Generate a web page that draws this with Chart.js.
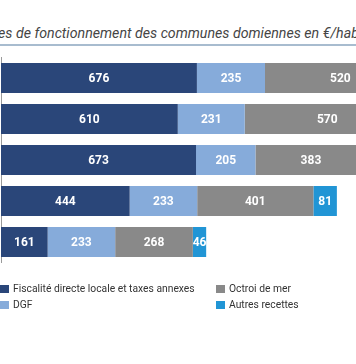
<!DOCTYPE html>
<html><head><meta charset="utf-8">
<script src="https://cdn.jsdelivr.net/npm/chart.js@4/dist/chart.umd.min.js"></script>
<style>
html,body{margin:0;padding:0;background:#fff;overflow:hidden;}
#wrap{position:relative;width:356px;height:364px;overflow:hidden;font-family:Roboto,"Noto Sans",sans-serif;}
#title{position:absolute;left:-2px;top:25px;white-space:nowrap;font-size:14.2px;font-style:italic;color:#454545;}
#rule{position:absolute;left:0;top:44px;width:356px;height:2px;background:#a8bccf;}
#c{position:absolute;left:0;top:0;}
.leg{position:absolute;font-size:10.3px;color:#333;white-space:nowrap;line-height:14px;}
.leg i{position:absolute;left:-13px;top:3px;width:9px;height:8px;}
</style></head>
<body><div id="wrap">
<div id="title">es de fonctionnement des communes domiennes en €/habitant</div>
<div id="rule"></div>
<canvas id="c" width="356" height="364"></canvas>
<div id="legend"></div>
</div>
<script>
const categories = ['Guadeloupe','Martinique','Guyane','La Réunion','Mayotte'];
const seriesNames = ['Fiscalité directe locale et taxes annexes','DGF','Octroi de mer','Autres recettes'];
const fiscalite = [676, 610, 673, 444, 161];
const dgf = [235, 231, 205, 233, 233];
const octroi = [520, 570, 383, 401, 268];
const autres = [null, null, null, 81, 46];
const colors = ['#2a4679','#86abda','#898989','#2195d5'];

const seriesData = [fiscalite, dgf, octroi, autres];

const labelPlugin = {
  id: 'barLabels',
  afterDatasetsDraw(chart) {
    const ctx = chart.ctx;
    ctx.save();
    ctx.font = 'bold 12px Roboto, sans-serif';
    ctx.fillStyle = '#ffffff';
    ctx.textAlign = 'center';
    ctx.textBaseline = 'middle';
    chart.data.datasets.forEach((ds, i) => {
      const meta = chart.getDatasetMeta(i);
      meta.data.forEach((el, j) => {
        const v = ds.data[j];
        if (v === null || v === undefined) return;
        const x = (el.x + el.base) / 2;
        ctx.fillText(String(v), x, el.y + 1);
      });
    });
    ctx.restore();
  }
};

new Chart(document.getElementById('c'), {
  type: 'bar',
  data: {
    labels: categories,
    datasets: seriesData.map((d, i) => ({
      label: seriesNames[i], data: d, backgroundColor: colors[i],
      borderWidth: 0, categoryPercentage: 1, barPercentage: 0.73
    }))
  },
  options: {
    indexAxis: 'y', responsive: false, animation: false,
    layout: { padding: { left: 1, right: 0, top: 57.5, bottom: 101.5 } },
    plugins: { legend: { display: false }, tooltip: { enabled: false }, title: { display: false } },
    scales: {
      x: { stacked: true, min: 0, max: 1225, display: false },
      y: { stacked: true, ticks: { display: false },
           grid: { display: false, drawTicks: false },
           border: { display: true, color: '#9a9a9a', width: 1 } }
    }
  },
  plugins: [labelPlugin]
});

const legPos = [[13, 282], [13, 298], [229, 282], [229, 298]];
const legend = document.getElementById('legend');
seriesNames.forEach((n, i) => {
  const d = document.createElement('div');
  d.className = 'leg';
  d.style.left = legPos[i][0] + 'px';
  d.style.top = legPos[i][1] + 'px';
  const sq = document.createElement('i');
  sq.style.background = colors[i];
  d.appendChild(sq);
  d.appendChild(document.createTextNode(n));
  legend.appendChild(d);
});
</script>
</body></html>
